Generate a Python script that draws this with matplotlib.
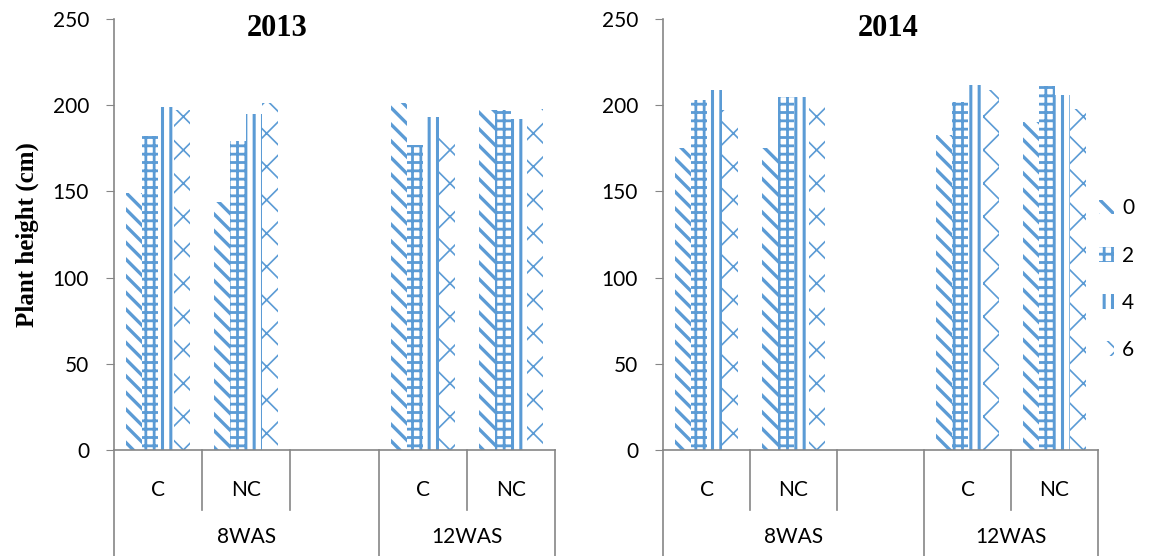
import matplotlib
matplotlib.use("Agg")
import matplotlib.pyplot as plt
from matplotlib.patches import Patch
import numpy as np

# data
categories = ["C", "NC", "", "C", "NC"]
groups = ["8WAS", "12WAS"]
group_spans = [(0, 3), (3, 5)]
doses = ["0", "2", "4", "6"]

# rows = dose, columns = category slot (None = empty slot)
h2013 = [
    [149, 144, None, 201, 197],
    [182, 179, None, 177, 197],
    [199, 195, None, 193, 192],
    [197, 201, None, 186, 198],
]
h2014 = [
    [175, 175, None, 183, 190],
    [203, 205, None, 202, 211],
    [209, 205, None, 212, 206],
    [197, 206, None, 209, 198],
]

blue = "#5B9BD5"
hatches = ["\\\\", "++", "||", "x"]
hatch_lw = [2.4, 2.0, 2.2, 1.2]
tick_font = "Lato"
serif = "Liberation Serif"

plt.rcParams["hatch.color"] = blue
plt.rcParams["font.family"] = tick_font

fig = plt.figure(figsize=(11.72, 5.56), dpi=100)
ax1 = fig.add_axes([0.0973, 0.1906, 0.3762, 0.7752])
ax2 = fig.add_axes([0.5657, 0.1906, 0.3712, 0.7752])

width = 0.182


def draw(ax, data, title, title_x):
    x = np.arange(len(categories)) + 0.5
    for i, row in enumerate(data):
        xs = [x[j] + (i - 1.5) * width for j, v in enumerate(row) if v is not None]
        vs = [v for v in row if v is not None]
        bars = ax.bar(xs, vs, width, facecolor="white", edgecolor=blue,
                      hatch=hatches[i], linewidth=0)
        for b in bars:
            b.set_hatch_linewidth(hatch_lw[i])
    ax.set_xlim(0, len(categories))
    ax.set_ylim(0, 250)
    ax.set_yticks(range(0, 251, 50))
    ax.tick_params(axis="y", labelsize=15, length=6, color="#868686", pad=12)
    ax.set_xticks([])
    for s in ["top", "right"]:
        ax.spines[s].set_visible(False)
    for s in ["left", "bottom"]:
        ax.spines[s].set_color("#868686")
        ax.spines[s].set_linewidth(1.2)
    ax.text(title_x, 0.977, title, transform=ax.transAxes, ha="center",
            va="center", fontfamily=serif, fontweight="bold", fontsize=22)
    tr = ax.get_xaxis_transform()
    for j, c in enumerate(categories):
        ax.text(x[j], -0.093, c, transform=tr, ha="center", va="center",
                fontsize=15)
    outer = [s for s, e in group_spans] + [len(categories)]
    for k in range(len(categories) + 1):
        y0 = -0.246 if k in outer else -0.139
        ax.plot([k, k], [0, y0], transform=tr, color="#868686", lw=1.2,
                clip_on=False)
    for g, (s, e) in zip(groups, group_spans):
        ax.text((s + e) / 2, -0.202, g, transform=tr, ha="center",
                va="center", fontsize=15)


draw(ax1, h2013, "2013", 0.37)
draw(ax2, h2014, "2014", 0.517)

ax1.set_ylabel("Plant height (cm)", fontfamily=serif, fontweight="bold",
               fontsize=18, labelpad=10)

handles = []
for i, d in enumerate(doses):
    handles.append(Patch(facecolor="white", edgecolor=blue, linewidth=0,
                         hatch=hatches[i], label=d))
leg = fig.legend(handles=handles, loc="center left",
                 bbox_to_anchor=(0.922, 0.498), frameon=False, fontsize=15,
                 handlelength=0.7, handleheight=0.7, labelspacing=1.3,
                 handletextpad=0.4)
for h, lw in zip(leg.get_patches(), hatch_lw):
    h.set_hatch_linewidth(lw)

fig.savefig("out.png", dpi=100)
